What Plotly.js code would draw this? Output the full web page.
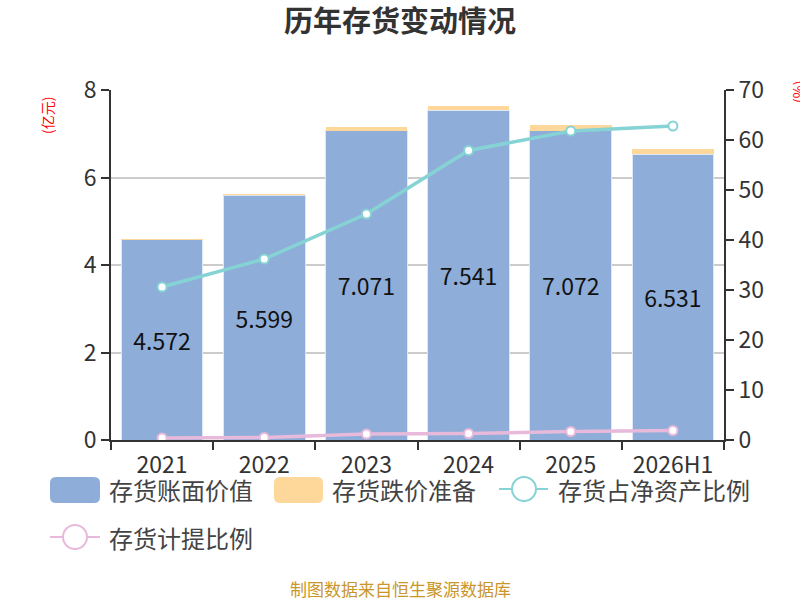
<!DOCTYPE html>
<html>
<head>
<meta charset="utf-8">
<script src="https://cdn.plot.ly/plotly-3.0.1.min.js"></script>
<style>
  html, body { margin:0; padding:0; background:#fff; }
  #chart { width:800px; height:600px; }
</style>
</head>
<body>
<div id="chart"></div>
<script>
// chart data
const years = ["2021", "2022", "2023", "2024", "2025", "2026H1"];
const bookValue = [4.572, 5.599, 7.071, 7.541, 7.072, 6.531];     // 亿元
const impairment = [0.02, 0.02, 0.09, 0.09, 0.12, 0.13];          // 亿元
const shareOfNetAssets = [30.6, 36.2, 45.2, 57.9, 61.8, 62.8];    // %
const provisionRatio = [0.4, 0.5, 1.2, 1.3, 1.7, 1.9];            // %

const C_BLUE = "#8eadd9";
const C_YELLOW = "#fed89a";
const C_TEAL = "#86d3d5";
const C_PINK = "#e7b9da";
const C_TEXT = "#333333";
const FONT = "'Noto Sans CJK SC', 'Noto Sans', sans-serif";

// plot area in pixels, used to place the hand drawn legend / labels
const L = 111, R = 724, W = 800;
const px = x => (x - L) / (R - L);
const T = 90, B = 440;
const py = y => (B - y) / (B - T);

const traces = [
  {
    x: years, y: bookValue, type: "bar", name: "存货账面价值",
    marker: { color: C_BLUE, line: { color: "#dfe7f4", width: 1 } },
    texttemplate: "%{y:.3f}", textposition: "inside", insidetextanchor: "middle",
    insidetextfont: { color: "#111", size: 23, family: FONT },
    hoverinfo: "skip"
  },
  {
    x: years, y: impairment, type: "bar", name: "存货跌价准备",
    marker: { color: C_YELLOW, line: { width: 0 } },
    hoverinfo: "skip"
  },
  {
    x: years, y: shareOfNetAssets, type: "scatter", mode: "lines+markers", yaxis: "y2",
    name: "存货占净资产比例",
    line: { color: C_TEAL, width: 3.5 },
    marker: { color: "#fff", size: 9, line: { color: C_TEAL, width: 2 } },
    hoverinfo: "skip"
  },
  {
    x: years, y: provisionRatio, type: "scatter", mode: "lines+markers", yaxis: "y2",
    name: "存货计提比例",
    line: { color: C_PINK, width: 3.5 },
    marker: { color: "#fff", size: 9, line: { color: C_PINK, width: 2 } },
    hoverinfo: "skip"
  }
];

// legend drawn by hand to get the big rounded swatches
const legendShapes = [
  { type: "path", xref: "paper", yref: "paper",
    path: roundRect(50, 477, 100, 503, 6), fillcolor: C_BLUE, line: { width: 0 } },
  { type: "path", xref: "paper", yref: "paper",
    path: roundRect(274, 477, 323, 503, 6), fillcolor: C_YELLOW, line: { width: 0 } },
  { type: "line", xref: "paper", yref: "paper",
    x0: px(499), x1: px(548), y0: py(489), y1: py(489), line: { color: C_TEAL, width: 2 } },
  { type: "circle", xref: "paper", yref: "paper",
    x0: px(512), x1: px(536), y0: py(477), y1: py(501), fillcolor: "#fff", line: { color: C_TEAL, width: 2 } },
  { type: "line", xref: "paper", yref: "paper",
    x0: px(50), x1: px(100), y0: py(537), y1: py(537), line: { color: C_PINK, width: 2 } },
  { type: "circle", xref: "paper", yref: "paper",
    x0: px(63), x1: px(87), y0: py(525), y1: py(549), fillcolor: "#fff", line: { color: C_PINK, width: 2 } }
];

function roundRect(x0, y0, x1, y1, r) {
  const a = px(x0), b = px(x1), ra = r / (R - L), rb = r / (B - T);
  const top = py(y0), bot = py(y1);
  return `M ${a + ra} ${top} L ${b - ra} ${top} Q ${b} ${top} ${b} ${top - rb} ` +
         `L ${b} ${bot + rb} Q ${b} ${bot} ${b - ra} ${bot} L ${a + ra} ${bot} ` +
         `Q ${a} ${bot} ${a} ${bot + rb} L ${a} ${top - rb} Q ${a} ${top} ${a + ra} ${top} Z`;
}

function legendText(text, x, y) {
  return { text, xref: "paper", yref: "paper", x: px(x), y: py(y),
    xanchor: "left", yanchor: "middle", showarrow: false,
    font: { size: 24, color: "#444", family: FONT } };
}

const annotations = [
  legendText("存货账面价值", 107, 489),
  legendText("存货跌价准备", 330, 489),
  legendText("存货占净资产比例", 556, 489),
  legendText("存货计提比例", 107, 537),
  { text: "(亿元)", xref: "paper", yref: "paper", x: px(47), y: py(116), textangle: -90,
    xanchor: "center", yanchor: "middle", showarrow: false,
    font: { size: 14, color: "#ff0000", family: FONT } },
  { text: "(%)", xref: "paper", yref: "paper", x: px(798), y: py(92), textangle: -90,
    xanchor: "center", yanchor: "middle", showarrow: false,
    font: { size: 14, color: "#ff0000", family: FONT } },
  { text: "制图数据来自恒生聚源数据库", xref: "paper", yref: "paper", x: px(400), y: py(588),
    xanchor: "center", yanchor: "middle", showarrow: false,
    font: { size: 17, color: "#c9962b", family: FONT } }
];

const layout = {
  width: 800, height: 600,
  margin: { l: L, r: W - R, t: T, b: 600 - B },
  paper_bgcolor: "#fff", plot_bgcolor: "#fff",
  title: { text: "<b>历年存货变动情况</b>", x: 0.5, xref: "container", xanchor: "center",
    y: 1 - 22 / 600, yanchor: "middle",
    font: { size: 29, color: C_TEXT, family: FONT } },
  barmode: "stack", bargap: 0.2,
  showlegend: false,
  font: { family: FONT, color: C_TEXT },
  xaxis: {
    type: "category", tickson: "boundaries", ticks: "outside", ticklen: 8, tickwidth: 2,
    tickcolor: C_TEXT, showline: true, linecolor: C_TEXT, linewidth: 2, ticklabelstandoff: 3,
    tickfont: { size: 23, color: C_TEXT }, showgrid: false, fixedrange: true
  },
  yaxis: {
    range: [0, 8], dtick: 2, ticks: "outside", ticklen: 8, tickwidth: 2, tickcolor: C_TEXT,
    showline: true, linecolor: C_TEXT, linewidth: 2, gridcolor: "#cccccc", gridwidth: 2,
    zeroline: false, tickfont: { size: 23, color: C_TEXT }, fixedrange: true
  },
  yaxis2: {
    overlaying: "y", side: "right", range: [0, 70], dtick: 10,
    ticks: "outside", ticklen: 8, tickwidth: 2, tickcolor: C_TEXT,
    showline: true, linecolor: C_TEXT, linewidth: 2, showgrid: false, zeroline: false,
    tickfont: { size: 23, color: C_TEXT }, fixedrange: true
  },
  shapes: legendShapes,
  annotations
};

Plotly.newPlot("chart", traces, layout, { displayModeBar: false, staticPlot: true });
</script>
</body>
</html>
